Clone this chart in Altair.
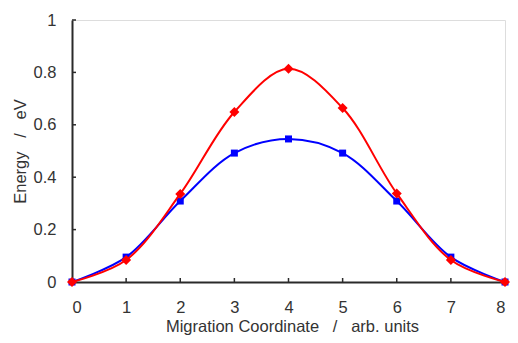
import altair as alt
import pandas as pd

x_vals = [0, 1, 2, 3, 4, 5, 6, 7, 8]
red_vals = [0.0, 0.084, 0.336, 0.649, 0.814, 0.664, 0.338, 0.084, 0.0]
blue_vals = [0.0, 0.095, 0.309, 0.492, 0.546, 0.492, 0.309, 0.095, 0.0]
x_ticks = [0, 1, 2, 3, 4, 5, 6, 7, 8]
y_ticks = [0, 0.2, 0.4, 0.6, 0.8, 1]

red = pd.DataFrame({"x": x_vals, "y": red_vals})
blue = pd.DataFrame({"x": x_vals, "y": blue_vals})
xt = pd.DataFrame({"x": x_ticks})
yt = pd.DataFrame({"y": y_ticks})

W, H = 433, 262
FONT = "Liberation Sans"
TXT = "#333333"
AX = "#2a2a2a"
SP = "\u00a0\u00a0\u00a0"

xscale = alt.Scale(domain=[0, 8], nice=False, zero=False)
yscale = alt.Scale(domain=[0, 1], nice=False)

xaxis = alt.Axis(values=x_ticks, ticks=False, grid=False, labelPadding=17,
                 labelExpr="format(datum.value, 'd')",
                 title="Migration Coordinate" + SP + "/" + SP + "arb. units",
                 titleX=220, titleY=49.5, titleBaseline="alphabetic", titleAlign="center",
                 labelFont=FONT, titleFont=FONT, labelFontSize=16.5,
                 titleFontSize=16.5, titleFontWeight="normal", labelColor=TXT,
                 titleColor=TXT, domainColor=AX, domainWidth=2)
yaxis = alt.Axis(values=y_ticks, ticks=False, grid=False, labelPadding=16,
                 title="Energy" + SP + "/" + SP + "eV",
                 titleX=-52, titleY=H / 2, titleBaseline="middle", titleAlign="center",
                 titleAngle=270,
                 labelFont=FONT, titleFont=FONT, labelFontSize=16.5,
                 titleFontSize=16.5, titleFontWeight="normal", labelColor=TXT,
                 titleColor=TXT, domainColor=AX, domainWidth=2,
                 labelExpr="datum.value == 0 ? '0' : format(datum.value, '.1~f')")

def line(df, color):
    return alt.Chart(df).mark_line(color=color, strokeWidth=2, interpolate="catmull-rom", clip=True).encode(
        x=alt.X("x:Q", scale=xscale, axis=xaxis),
        y=alt.Y("y:Q", scale=yscale, axis=yaxis),
    )

blue_line = line(blue, "#0000FF")
blue_pts = alt.Chart(blue).mark_point(shape="square", filled=True, color="#0000FF", size=49, opacity=1).encode(
    x=alt.X("x:Q", scale=xscale), y=alt.Y("y:Q", scale=yscale))
red_line = line(red, "#FF0000")
red_pts = alt.Chart(red).mark_point(shape="diamond", filled=True, color="#FF0000", size=100, opacity=1).encode(
    x=alt.X("x:Q", scale=xscale), y=alt.Y("y:Q", scale=yscale))

ytick_marks = alt.Chart(yt).mark_rule(color=AX, strokeWidth=1.5).encode(
    y=alt.Y("y:Q", scale=yscale), x=alt.value(0), x2=alt.value(4))
xtick_marks = alt.Chart(xt).mark_rule(color=AX, strokeWidth=1.5).encode(
    x=alt.X("x:Q", scale=xscale), y=alt.value(H), y2=alt.value(H - 4))

chart = alt.layer(blue_line, ytick_marks, xtick_marks, blue_pts, red_line, red_pts).properties(
    width=W, height=H,
    autosize=alt.AutoSizeParams(type="none"),
    padding={"left": 64, "top": 12, "right": 5, "bottom": 53},
).configure_view(stroke=None).configure(background="white")

chart.save("out.html", embed_options={"renderer": "svg", "actions": False})
